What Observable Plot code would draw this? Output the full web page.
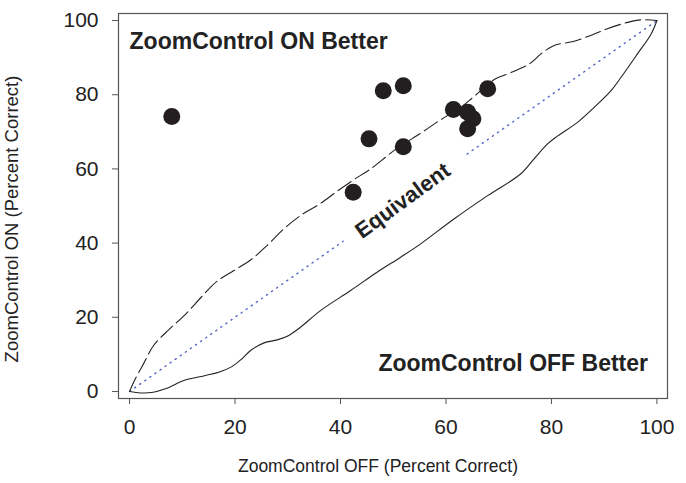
<!DOCTYPE html>
<html><head><meta charset="utf-8">
<script src="https://cdn.jsdelivr.net/npm/d3@7"></script>
<script src="https://cdn.jsdelivr.net/npm/@observablehq/plot@0.6"></script>
<style>body{margin:0;background:#fff}</style>
</head><body><div id="chart"></div>
<script>
// Observed points
const offPct = [8.0, 48.1, 51.9, 45.4, 51.9, 42.4, 67.9, 61.4, 64.1, 65.1, 64.1];
const onPct  = [74.1, 81.1, 82.4, 68.1, 66.0, 53.7, 81.6, 76.0, 75.3, 73.5, 70.8];

// Upper (dashed) equivalence bound
const upperX = [0, 0.95, 2.66, 4.55, 7.4, 10.6, 13.7, 16.5, 19.8, 23.0, 26.1, 29.3, 32.6, 35.9, 39.1, 42.3, 45.7, 50.2, 55.5, 58.7, 62.8, 65.3, 69.4, 71.7, 75.8, 78.0, 80.5, 84.3, 87.8, 90.6, 94.4, 97.0, 100];
const upperY = [0, 3.0, 7.5, 12.4, 16.6, 20.8, 25.6, 29.6, 32.6, 35.5, 39.4, 43.9, 47.6, 50.4, 53.7, 56.9, 60.0, 65.0, 69.9, 73.0, 76.6, 79.5, 84.3, 85.6, 88.3, 91.0, 93.3, 94.4, 96.2, 97.8, 99.5, 100.2, 100];

// Lower (solid) equivalence bound
const lowerX = [0, 2.1, 4.2, 6.8, 10.4, 14.4, 16.9, 19.4, 21.3, 23.0, 25.5, 28.0, 30.2, 32.4, 36.2, 41.9, 47.0, 51.4, 55.2, 61.5, 67.9, 74.2, 76.7, 79.3, 81.2, 85.0, 88.1, 91.3, 93.2, 96.3, 98.9, 100];
const lowerY = [0, -0.4, -0.3, 0.7, 3.0, 4.3, 5.2, 6.7, 8.8, 11.1, 13.1, 13.9, 15.1, 17.3, 21.8, 27.2, 32.2, 36.2, 39.8, 46.5, 52.8, 58.7, 62.7, 66.8, 68.9, 72.6, 76.6, 81.1, 84.7, 91.0, 96.4, 100];

// Identity line pieces (gap where the "Equivalent" label sits)
const diagStart = [0, 64];
const diagEnd = [40.5, 100];

const xTicks = [0, 20, 40, 60, 80, 100];
const yTicks = [0, 20, 40, 60, 80, 100];

const xLabel = "ZoomControl OFF (Percent Correct)";
const yLabel = "ZoomControl ON (Percent Correct)";
const labelOn = "ZoomControl ON Better";
const labelOff = "ZoomControl OFF Better";
const labelEq = "Equivalent";

const points = offPct.map((x, i) => ({x, y: onPct[i]}));
const upper = upperX.map((x, i) => ({x, y: upperY[i]}));
const lower = lowerX.map((x, i) => ({x, y: lowerY[i]}));
const diag = diagStart.flatMap((s, i) => [{x: s, y: s, seg: i}, {x: diagEnd[i], y: diagEnd[i], seg: i}]);

const tickFont = "'Liberation Sans', Arial, sans-serif";
const boldFont = "'Liberation Sans', 'DejaVu Sans', sans-serif";

const chart = Plot.plot({
  width: 686,
  height: 483,
  marginLeft: 118,
  marginRight: 19,
  marginTop: 13,
  marginBottom: 85,
  style: {background: "#fff", color: "#222"},
  x: {domain: [-2.1, 102]},
  y: {domain: [-1.9, 101.9]},
  marks: [
    Plot.line(diag, {x: "x", y: "y", z: "seg", stroke: "#5566c4", strokeWidth: 1.4, strokeDasharray: "1.2,5", strokeLinecap: "round"}),
    Plot.line(upper, {x: "x", y: "y", curve: "catmull-rom", stroke: "#222", strokeWidth: 1.1, strokeDasharray: "16,5"}),
    Plot.line(lower, {x: "x", y: "y", curve: "catmull-rom", stroke: "#222", strokeWidth: 1.1}),
    Plot.dot(points, {x: "x", y: "y", r: 8.5, fill: "#231f20", stroke: "none"}),
    Plot.text([labelOn], {x: 0, y: 94.2, text: d => d, textAnchor: "start", fontSize: 23, fontWeight: "bold", fontFamily: boldFont, fill: "#222"}),
    Plot.text([labelOff], {x: 98.3, y: 7.4, text: d => d, textAnchor: "end", fontSize: 23, fontWeight: "bold", fontFamily: boldFont, fill: "#222"}),
    Plot.text([labelEq], {x: 51.8, y: 51.4, text: d => d, rotate: -36, fontSize: 22, fontWeight: "bold", fontFamily: boldFont, fill: "#222"}),
    Plot.frame({stroke: "#555", strokeWidth: 1.2}),
    Plot.axisX({ticks: xTicks, tickSize: 6, tickPadding: 15, tickFormat: d => d, label: null, fontSize: 21, fontFamily: tickFont, stroke: "#555"}),
    Plot.axisY({ticks: yTicks, tickSize: 6, tickPadding: 14, tickFormat: d => d, label: null, fontSize: 21, fontFamily: tickFont, stroke: "#555"}),
    Plot.text([xLabel], {frameAnchor: "bottom", dy: 73, dx: -15, text: d => d, fontSize: 17.5, fontFamily: tickFont, fill: "#222"}),
    Plot.text([yLabel], {frameAnchor: "left", textAnchor: "middle", dx: -106, dy: 13, rotate: -90, text: d => d, fontSize: 18.5, fontFamily: tickFont, fill: "#222"})
  ]
});
document.getElementById("chart").append(chart);
</script>
</body></html>
